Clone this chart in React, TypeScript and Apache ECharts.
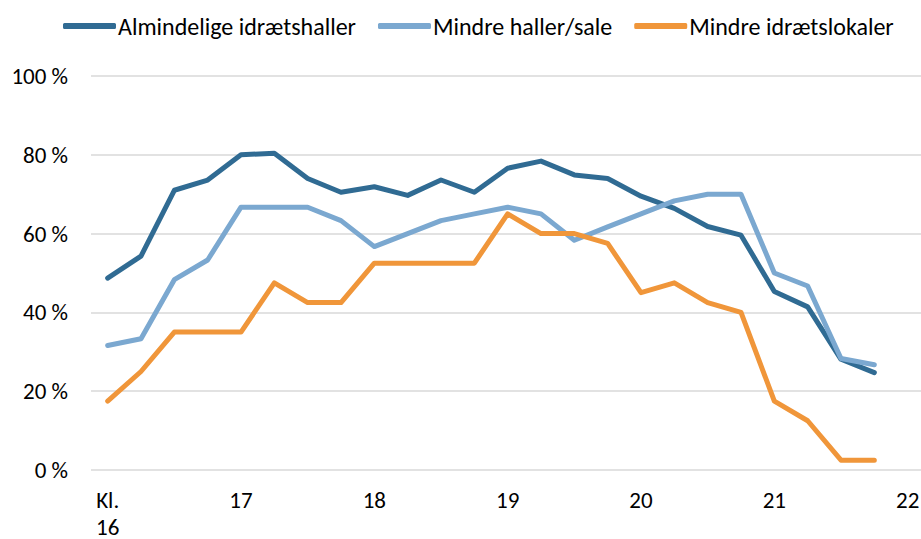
import React, { useEffect, useRef } from "react";
import * as echarts from "echarts";

const seriesNames = ["Almindelige idrætshaller", "Mindre haller/sale", "Mindre idrætslokaler"];
const times = [16, 16.25, 16.5, 16.75, 17, 17.25, 17.5, 17.75, 18, 18.25, 18.5, 18.75, 19, 19.25, 19.5, 19.75, 20, 20.25, 20.5, 20.75, 21, 21.25, 21.5, 21.75];
const almindelige = [48.7, 54.3, 71.0, 73.6, 80.0, 80.4, 74.0, 70.5, 71.9, 69.7, 73.6, 70.5, 76.6, 78.4, 74.9, 74.0, 69.5, 66.4, 61.8, 59.6, 45.3, 41.4, 28.1, 24.7];
const mindreHaller = [31.6, 33.3, 48.3, 53.3, 66.7, 66.7, 66.7, 63.3, 56.7, 60.0, 63.3, 65.0, 66.7, 65.0, 58.3, 61.7, 65.0, 68.3, 70.0, 70.0, 50.0, 46.7, 28.3, 26.7];
const mindreLokaler = [17.5, 25, 35, 35, 35, 47.5, 42.5, 42.5, 52.5, 52.5, 52.5, 52.5, 65, 60, 60, 57.5, 45, 47.5, 42.5, 40, 17.5, 12.5, 2.5, 2.5];
const hourLabels: Record<number, string> = { 16: "Kl.\n16", 17: "17", 18: "18", 19: "19", 20: "20", 21: "21", 22: "22" };

const colors = ["#306B93", "#7BA8D0", "#F0963A"];
const FONT = "Carlito, Lato, sans-serif";
const FS = 23;

export default function App() {
  const ref = useRef<HTMLDivElement>(null);
  useEffect(() => {
    if (!ref.current) return;
    const chart = echarts.init(ref.current, undefined, { renderer: "svg" });
    const all = [almindelige, mindreHaller, mindreLokaler];
    chart.setOption({
      animation: false,
      backgroundColor: "#ffffff",
      textStyle: { fontFamily: FONT },
      legend: {
        left: 58,
        top: 9,
        width: 900,
        itemWidth: 53,
        itemHeight: 6,
        itemGap: 22,
        icon: "roundRect",
        textStyle: { fontSize: 24, color: "#000000", fontFamily: FONT, padding: [0, 0, 0, -3] },
        data: seriesNames,
      },
      grid: { left: 91, right: 0, top: 76, bottom: 69, containLabel: false, outerBoundsMode: "none" },
      xAxis: {
        type: "value",
        min: 15.875,
        max: 22.1,
        interval: 0.125,
        axisLine: { show: false },
        axisTick: { show: false },
        splitLine: { show: false },
        axisLabel: {
          fontSize: FS,
          lineHeight: 27,
          margin: 16,
          color: "#000000",
          fontFamily: FONT,
          formatter: (v: number) => {
            const r = Math.round(v);
            return Math.abs(v - r) < 1e-6 && hourLabels[r] ? hourLabels[r] : "";
          },
        },
      },
      yAxis: {
        type: "value",
        min: 0,
        max: 100,
        interval: 20,
        axisLine: { show: false },
        axisTick: { show: false },
        splitLine: { lineStyle: { color: "#D9D9D9", width: 1.5 } },
        axisLabel: {
          fontSize: FS,
          margin: 23,
          color: "#000000",
          fontFamily: FONT,
          formatter: "{value} %",
        },
      },
      series: seriesNames.map((name, i) => ({
        name,
        type: "line",
        data: times.map((t, j) => [t, all[i][j]]),
        showSymbol: false,
        symbol: "none",
        color: colors[i],
        lineStyle: { width: 5, color: colors[i], cap: "round", join: "round" },
      })),
    });
    return () => chart.dispose();
  }, []);
  return <div ref={ref} style={{ position: "absolute", left: 0, top: 0, width: 921, height: 539 }} />;
}
